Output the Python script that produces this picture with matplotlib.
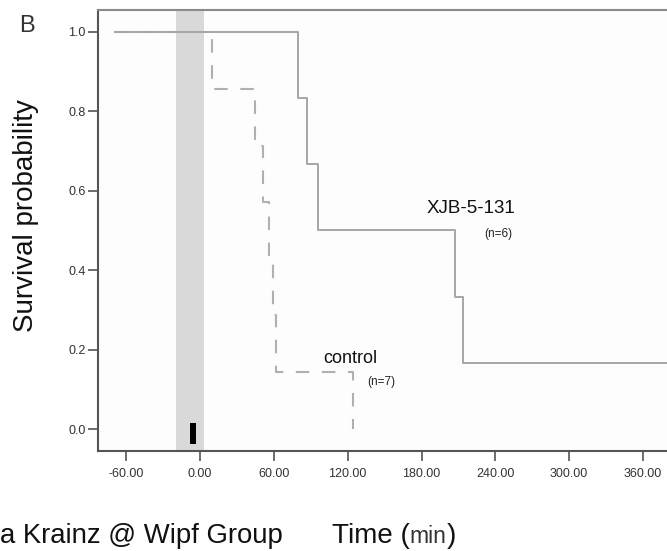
import numpy as np
import matplotlib
matplotlib.use("Agg")
import matplotlib.pyplot as plt

plt.rcParams['font.family'] = ['Liberation Sans', 'DejaVu Sans']
plt.rcParams['axes.unicode_minus'] = False

# Kaplan-Meier steps (time in min, survival probability)
xjb_time = [-69, 80, 87, 96, 207, 214, 380]
xjb_surv = [1.0, 0.833, 0.667, 0.5, 0.333, 0.167, 0.167]
ctrl_time = [-69, 10, 45, 51, 56, 59, 62, 124]
ctrl_surv = [1.0, 0.857, 0.714, 0.571, 0.429, 0.286, 0.143, 0.0]

# treatment window and marker
band_start, band_end = -19.5, 3.0
mark_time = -5.7

xticks = [-60, 0, 60, 120, 180, 240, 300, 360]
yticks = [0.0, 0.2, 0.4, 0.6, 0.8, 1.0]

fig = plt.figure(figsize=(6.67, 5.51), dpi=100)
ax = fig.add_axes([98/667, 1-451/551, 1-98/667, (451-10)/551])

ax.axvspan(band_start, band_end, color='#d9d9d9', lw=0, zorder=1)
ax.plot([mark_time, mark_time], [-0.038, 0.015], color='black', lw=4.3,
        solid_capstyle='butt', zorder=5)

ax.step(ctrl_time, ctrl_surv, where='post', color='#b0b0b0', lw=1.5,
        dashes=(6.5, 6), zorder=3)
ax.step(xjb_time, xjb_surv, where='post', color='#a6a6a6', lw=1.4, zorder=4)

ax.text(184.5, 0.544, 'XJB-5-131', fontsize=13.5, color='#111111')
ax.text(231, 0.484, '(n=6)', fontsize=8.5, color='#222222')
ax.text(100, 0.166, 'control', fontsize=13, color='#111111')
ax.text(136, 0.111, '(n=7)', fontsize=8.5, color='#222222')

ax.set_xlim(-82.9, 379.5)
ax.set_ylim(-0.0554, 1.0554)
ax.set_xticks(xticks)
ax.set_xticklabels(['%.2f' % t for t in xticks])
ax.set_yticks(yticks)
ax.set_yticklabels(['%.1f' % t for t in yticks])
ax.tick_params(axis='both', direction='out', length=7, width=1.2,
               color='#555555', labelsize=9, labelcolor='#333333')
ax.tick_params(axis='x', pad=5)
ax.tick_params(axis='y', pad=2)

ax.spines['right'].set_visible(False)
for s in ['left', 'bottom']:
    ax.spines[s].set_color('#555555')
    ax.spines[s].set_linewidth(1.5)
ax.spines['top'].set_color('#8a8a8a')
ax.spines['top'].set_linewidth(1.5)
ax.set_facecolor('#fdfdfd')

fig.text(26/667, 1-216/551, 'Survival probability', rotation=90,
         ha='center', va='center', fontsize=20, color='#111111')
fig.text(19/667, 1-32/551, 'B', fontsize=17, color='#333333', va='baseline')

base_y = 1 - 543/551
fig.text(0.0, base_y, 'a Krainz @ Wipf Group', fontsize=19.8, va='baseline',
         color='#111111')

# "Time (min)" with smaller unit text
fig.canvas.draw()
r = fig.canvas.get_renderer()
t1 = fig.text(332/667, base_y, 'Time (', fontsize=20, va='baseline', color='#111111')
x1 = t1.get_window_extent(r).x1 / fig.bbox.width
t2 = fig.text(x1, base_y, 'min', fontsize=16.5, va='baseline', color='#333333')
x2 = t2.get_window_extent(r).x1 / fig.bbox.width
fig.text(x2, base_y, ')', fontsize=20, va='baseline', color='#111111')

fig.savefig('out.png', dpi=100)
